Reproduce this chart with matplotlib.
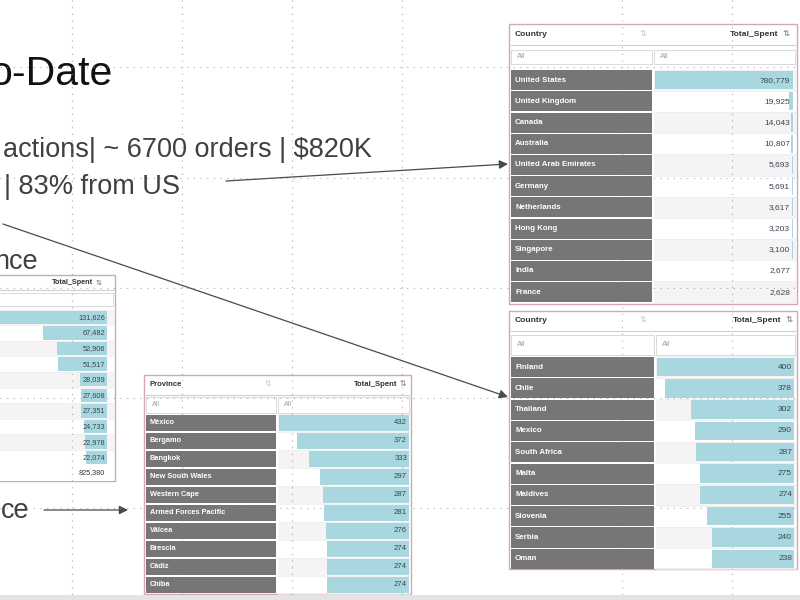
import numpy as np
import matplotlib
matplotlib.use('Agg')
import matplotlib.pyplot as plt
from matplotlib.patches import Rectangle

plt.rcParams['font.family'] = ['Liberation Sans', 'DejaVu Sans']

# Data
left_spent = [131626, 67482, 52906, 51517, 28039, 27608, 27351, 24733, 22978, 22074]
left_total = 825380

province_names = ['México', 'Bergamo', 'Bangkok', 'New South Wales', 'Western Cape',
                  'Armed Forces Pacific', 'Vâlcea', 'Brescia', 'Cádiz', 'Chiba']
province_spent = [432, 372, 333, 297, 287, 281, 276, 274, 274, 274]

top_countries = ['United States', 'United Kingdom', 'Canada', 'Australia',
                 'United Arab Emirates', 'Germany', 'Netherlands', 'Hong Kong',
                 'Singapore', 'India', 'France']
top_spent = [780779, 19925, 14043, 10807, 5693, 5691, 3617, 3203, 3100, 2677, 2628]

low_countries = ['Finland', 'Chile', 'Thailand', 'Mexico', 'South Africa', 'Malta',
                 'Maldives', 'Slovenia', 'Serbia', 'Oman']
low_spent = [400, 378, 302, 290, 287, 275, 274, 255, 240, 238]

W, H = 800, 600
BAR = '#a9d7df'
LABEL_BG = '#787578'
FRAME = '#d6a6b6'
ALT = '#f5f3f4'

fig = plt.figure(figsize=(8, 6), dpi=100)
fig.patch.set_facecolor('white')
ax = fig.add_axes([0, 0, 1, 1])
ax.set_xlim(0, W)
ax.set_ylim(H, 0)
ax.axis('off')


def px_axes(x0, y0, x1, y1, z=3):
    a = fig.add_axes([x0 / W, 1 - y1 / H, (x1 - x0) / W, (y1 - y0) / H], zorder=z)
    a.patch.set_alpha(0)
    a.axis('off')
    return a


def fmt(v):
    return f'{v:,}'


def draw_table(frame, split, head_y, head_line, filt, rows_top, row_h, names, vals,
               bar_x, value_x, head_label, icon_x, total_right, fs=6.0, lfs=5.7):
    x0, y0, x1, y1 = frame
    ax.add_patch(Rectangle((x0, y0), x1 - x0, y1 - y0, fc='white', ec=FRAME, lw=1.0, zorder=2))
    # header
    if head_label:
        ax.text(x0 + 6, head_y, head_label, fontsize=fs, color='#333333', fontweight='bold',
                va='center', ha='left', zorder=4)
        ax.text(icon_x[0], head_y, '⇅', fontsize=fs, color='#c8c8c8', va='center',
                ha='center', family='DejaVu Sans', zorder=4)
    ax.text(total_right, head_y, 'Total_Spent', fontsize=fs, color='#333333',
            fontweight='bold', va='center', ha='right', zorder=4)
    ax.text(icon_x[1], head_y, '⇅', fontsize=fs, color='#777777', va='center',
            ha='left', family='DejaVu Sans', zorder=4)
    ax.plot([x0 + 2, x1 - 2], [head_line, head_line], color='#d0d0d0', lw=0.8, zorder=3)
    # filter boxes
    fy0, fy1 = filt
    if head_label:
        ax.add_patch(Rectangle((x0 + 2, fy0), split - x0 - 3, fy1 - fy0, fc='white',
                               ec='#d5d5d5', lw=0.6, zorder=3))
        ax.text(x0 + 8, (fy0 + fy1) / 2, 'All', fontsize=fs - 0.5, color='#a0a0a0',
                va='center', zorder=4)
    ax.add_patch(Rectangle((split + 1, fy0), x1 - split - 3, fy1 - fy0, fc='white',
                           ec='#d5d5d5', lw=0.6, zorder=3))
    if head_label:
        ax.text(split + 7, (fy0 + fy1) / 2, 'All', fontsize=fs - 0.5, color='#a0a0a0',
                va='center', zorder=4)
    n = len(vals)
    for i in range(n):
        ry = rows_top + i * row_h
        if i % 2 == 0:
            ax.add_patch(Rectangle((split + 1, ry), x1 - split - 2, row_h, fc=ALT,
                                   ec='none', zorder=2.5))
        ax.plot([split + 1, x1 - 1], [ry + row_h, ry + row_h], color='#ececec', lw=0.5, zorder=2.6)
        if names is not None:
            ax.add_patch(Rectangle((x0 + 2, ry + 0.6), split - x0 - 3, row_h - 1.2,
                                   fc=LABEL_BG, ec='none', zorder=3))
            ax.text(x0 + 6, ry + row_h / 2, names[i], fontsize=lfs, color='white',
                    fontweight='bold', va='center', ha='left', zorder=4)
    # bars through their own axes, growing leftwards from the right edge
    bx0, bx1 = bar_x
    bax = px_axes(bx0, rows_top, bx1, rows_top + n * row_h)
    bax.barh(np.arange(n), vals, height=0.86, color=BAR, left=0)
    bax.set_xlim(max(vals), 0)
    bax.set_ylim(n - 0.5, -0.5)
    for i, v in enumerate(vals):
        bax.text((value_x - bx0) / (bx1 - bx0), i, fmt(v), fontsize=lfs + 0.3,
                 color='#3a4550', va='center', ha='right',
                 transform=bax.get_yaxis_transform())


# slide text
ax.text(113, 85, 'o-Date', fontsize=29.5, color='#111111', ha='right', va='baseline', zorder=5)
ax.text(372, 157, 'actions| ~ 6700 orders | $820K', fontsize=19.5, color='#404040',
        ha='right', va='baseline', zorder=5)
ax.text(180, 194, '| 83% from US', fontsize=19.5, color='#404040', ha='right',
        va='baseline', zorder=5)
ax.text(38, 269, 'nce', fontsize=19.5, color='#404040', ha='right', va='baseline', zorder=5)
ax.text(30, 518, 'ce', fontsize=19.5, color='#404040', ha='right', va='baseline', zorder=5)

# tables
draw_table((-5, 275, 115, 481), -30, 283, 290, (293, 306), 309.5, 15.6, None, left_spent,
           (-18, 107), 105, None, (0, 96), 93, fs=5.2, lfs=5.0)
ax.add_patch(Rectangle((-5, 465.5), 119, 15, fc='white', ec='none', zorder=2.7))
ax.text(105, 473, fmt(left_total), fontsize=5.2, color='#333333', ha='right', va='center', zorder=4)

draw_table((144, 375, 411, 594), 277, 384, 395, (397, 413), 414, 18, province_names,
           province_spent, (279, 409), 407, 'Province', (268, 400), 397, fs=5.6, lfs=5.3)

draw_table((509, 24, 797, 304), 653, 34, 45, (50, 64), 69.5, 21.2, top_countries,
           top_spent, (655, 793), 790, 'Country', (643, 782), 778, fs=6.1, lfs=5.7)

draw_table((509, 311, 797, 569), 655, 320, 331, (335, 355), 356.4, 21.3, low_countries,
           low_spent, (657, 794), 792, 'Country', (643, 785), 781, fs=6.1, lfs=5.7)

# arrows
arrow = dict(arrowstyle='-|>', color='#4a4a4a', lw=0.9, mutation_scale=13, shrinkA=0, shrinkB=0)
ax.annotate('', xy=(508, 164), xytext=(226, 181), arrowprops=arrow, zorder=6)
ax.annotate('', xy=(508, 397), xytext=(3, 224), arrowprops=arrow, zorder=6)
ax.annotate('', xy=(128, 510), xytext=(44, 510), arrowprops=arrow, zorder=6)

# slide guides (dotted)
guide = dict(color='#8c8c8c', lw=0.8, linestyle=(0, (1, 5)), alpha=0.7, zorder=7)
for gx in [72, 182, 292, 402, 622, 732]:
    ax.plot([gx, gx], [0, 595], **guide)
for gy in [67, 178, 288, 398, 508]:
    ax.plot([0, W], [gy, gy], **guide)

ax.add_patch(Rectangle((0, 595), W, 5, fc='#e4e4e4', ec='none', zorder=8))

plt.savefig('out.png', dpi=100)
